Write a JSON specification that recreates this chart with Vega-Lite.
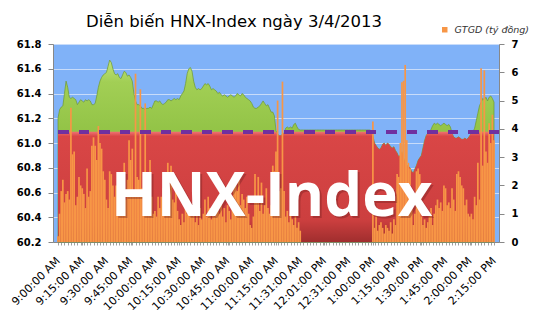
{
"$schema": "https://vega.github.io/schema/vega-lite/v6.json",
"autosize": "none",
"width": 446,
"height": 198,
"padding": {"left": 53, "top": 44, "right": 36, "bottom": 93},
"background": "white",
"config": {"view": {"fill": "#80b2f8", "stroke": "#bdbdbd"}, "font": "DejaVu Sans"},
"title": {"text": "Diễn biến HNX-Index ngày 3/4/2013", "anchor": "start", "frame": "group", "dx": 33, "dy": 35, "offset": 17, "baseline": "alphabetic", "font": "DejaVu Sans", "fontSize": 16.5, "fontWeight": "normal", "color": "#000000"},
"data": {"values": [
{"i":0,"v":61.20,"r":61.09,"g":0.2},{"i":1,"v":61.27,"r":61.09,"g":1.0},{"i":2,"v":61.29,"r":61.09,"g":1.8},{"i":3,"v":61.30,"r":61.09,"g":2.2},{"i":4,"v":61.40,"r":61.09,"g":1.4},{"i":5,"v":61.50,"r":61.09,"g":1.7},{"i":6,"v":61.45,"r":61.09,"g":1.8},{"i":7,"v":61.37,"r":61.09,"g":1.5},{"i":8,"v":61.36,"r":61.09,"g":4.75},{"i":9,"v":61.37,"r":61.09,"g":3.1},
{"i":10,"v":61.36,"r":61.09,"g":3.2},{"i":11,"v":61.35,"r":61.09,"g":1.3},{"i":12,"v":61.31,"r":61.09,"g":1.6},{"i":13,"v":61.33,"r":61.09,"g":2.3},{"i":14,"v":61.35,"r":61.09,"g":2.0},{"i":15,"v":61.34,"r":61.09,"g":1.9},{"i":16,"v":61.33,"r":61.09,"g":1.7},{"i":17,"v":61.35,"r":61.09,"g":1.2},{"i":18,"v":61.34,"r":61.09,"g":2.6},{"i":19,"v":61.35,"r":61.09,"g":1.6},
{"i":20,"v":61.34,"r":61.09,"g":1.8},{"i":21,"v":61.31,"r":61.09,"g":3.4},{"i":22,"v":61.31,"r":61.09,"g":3.7},{"i":23,"v":61.32,"r":61.09,"g":3.4},{"i":24,"v":61.38,"r":61.09,"g":2.9},{"i":25,"v":61.45,"r":61.09,"g":4.1},{"i":26,"v":61.50,"r":61.09,"g":3.5},{"i":27,"v":61.53,"r":61.09,"g":3.3},{"i":28,"v":61.55,"r":61.09,"g":2.5},{"i":29,"v":61.56,"r":61.09,"g":2.2},
{"i":30,"v":61.57,"r":61.09,"g":1.5},{"i":31,"v":61.62,"r":61.09,"g":1.2},{"i":32,"v":61.67,"r":61.09,"g":2.5},{"i":33,"v":61.65,"r":61.09,"g":2.4},{"i":34,"v":61.60,"r":61.09,"g":2.0},{"i":35,"v":61.56,"r":61.09,"g":1.6},{"i":36,"v":61.55,"r":61.09,"g":2.0},{"i":37,"v":61.56,"r":61.09,"g":1.9},{"i":38,"v":61.53,"r":61.09,"g":2.3},{"i":39,"v":61.52,"r":61.09,"g":2.1},
{"i":40,"v":61.55,"r":61.09,"g":2.3},{"i":41,"v":61.58,"r":61.09,"g":2.8},{"i":42,"v":61.57,"r":61.09,"g":1.5},{"i":43,"v":61.54,"r":61.09,"g":2.2},{"i":44,"v":61.55,"r":61.09,"g":3.6},{"i":45,"v":61.53,"r":61.09,"g":2.9},{"i":46,"v":61.50,"r":61.09,"g":3.3},{"i":47,"v":61.40,"r":61.09,"g":1.8},{"i":48,"v":61.34,"r":61.09,"g":5.95},{"i":49,"v":61.31,"r":61.09,"g":2.3},
{"i":50,"v":61.31,"r":61.09,"g":2.2},{"i":51,"v":61.30,"r":61.09,"g":5.4},{"i":52,"v":61.28,"r":61.09,"g":1.9},{"i":53,"v":61.28,"r":61.09,"g":2.4},{"i":54,"v":61.27,"r":61.09,"g":4.9},{"i":55,"v":61.28,"r":61.09,"g":1.3},{"i":56,"v":61.28,"r":61.09,"g":1.4},{"i":57,"v":61.29,"r":61.09,"g":2.9},{"i":58,"v":61.28,"r":61.09,"g":1.6},{"i":59,"v":61.31,"r":61.09,"g":1.0},
{"i":60,"v":61.34,"r":61.09,"g":1.1},{"i":61,"v":61.34,"r":61.09,"g":0.9},{"i":62,"v":61.33,"r":61.09,"g":1.6},{"i":63,"v":61.34,"r":61.09,"g":1.2},{"i":64,"v":61.32,"r":61.09,"g":1.6},{"i":65,"v":61.31,"r":61.09,"g":1.9},{"i":66,"v":61.32,"r":61.09,"g":1.2},{"i":67,"v":61.33,"r":61.09,"g":2.0},{"i":68,"v":61.35,"r":61.09,"g":2.8},{"i":69,"v":61.35,"r":61.09,"g":1.5},
{"i":70,"v":61.34,"r":61.09,"g":2.7},{"i":71,"v":61.35,"r":61.09,"g":1.5},{"i":72,"v":61.36,"r":61.09,"g":1.4},{"i":73,"v":61.35,"r":61.09,"g":1.9},{"i":74,"v":61.36,"r":61.09,"g":1.1},{"i":75,"v":61.35,"r":61.09,"g":0.8},{"i":76,"v":61.38,"r":61.09,"g":0.6},{"i":77,"v":61.40,"r":61.09,"g":1.0},{"i":78,"v":61.42,"r":61.09,"g":0.7},{"i":79,"v":61.48,"r":61.09,"g":1.3},
{"i":80,"v":61.56,"r":61.09,"g":1.0},{"i":81,"v":61.60,"r":61.09,"g":1.5},{"i":82,"v":61.61,"r":61.09,"g":1.2},{"i":83,"v":61.58,"r":61.09,"g":0.9},{"i":84,"v":61.50,"r":61.09,"g":1.4},{"i":85,"v":61.45,"r":61.09,"g":0.7},{"i":86,"v":61.43,"r":61.09,"g":1.1},{"i":87,"v":61.44,"r":61.09,"g":0.6},{"i":88,"v":61.43,"r":61.09,"g":1.2},{"i":89,"v":61.44,"r":61.09,"g":0.8},
{"i":90,"v":61.46,"r":61.09,"g":1.0},{"i":91,"v":61.48,"r":61.09,"g":1.5},{"i":92,"v":61.47,"r":61.09,"g":0.9},{"i":93,"v":61.48,"r":61.09,"g":1.6},{"i":94,"v":61.46,"r":61.09,"g":1.2},{"i":95,"v":61.43,"r":61.09,"g":0.8},{"i":96,"v":61.44,"r":61.09,"g":1.1},{"i":97,"v":61.43,"r":61.09,"g":0.9},{"i":98,"v":61.42,"r":61.09,"g":1.3},{"i":99,"v":61.40,"r":61.09,"g":1.6},
{"i":100,"v":61.41,"r":61.09,"g":1.0},{"i":101,"v":61.39,"r":61.09,"g":1.5},{"i":102,"v":61.38,"r":61.09,"g":0.9},{"i":103,"v":61.39,"r":61.09,"g":1.2},{"i":104,"v":61.38,"r":61.09,"g":0.7},{"i":105,"v":61.37,"r":61.09,"g":1.3},{"i":106,"v":61.38,"r":61.09,"g":1.1},{"i":107,"v":61.39,"r":61.09,"g":0.8},{"i":108,"v":61.38,"r":61.09,"g":1.4},{"i":109,"v":61.37,"r":61.09,"g":1.9},
{"i":110,"v":61.38,"r":61.09,"g":2.4},{"i":111,"v":61.40,"r":61.09,"g":1.8},{"i":112,"v":61.39,"r":61.09,"g":2.2},{"i":113,"v":61.38,"r":61.09,"g":1.3},{"i":114,"v":61.40,"r":61.09,"g":1.7},{"i":115,"v":61.39,"r":61.09,"g":1.5},{"i":116,"v":61.37,"r":61.09,"g":1.2},{"i":117,"v":61.36,"r":61.09,"g":1.6},{"i":118,"v":61.35,"r":61.09,"g":1.0},{"i":119,"v":61.34,"r":61.09,"g":0.6},
{"i":120,"v":61.32,"r":61.09,"g":0.5},{"i":121,"v":61.29,"r":61.09,"g":0.9},{"i":122,"v":61.28,"r":61.09,"g":2.4},{"i":123,"v":61.28,"r":61.09,"g":1.6},{"i":124,"v":61.29,"r":61.09,"g":2.3},{"i":125,"v":61.30,"r":61.09,"g":1.1},{"i":126,"v":61.32,"r":61.09,"g":2.1},{"i":127,"v":61.34,"r":61.09,"g":1.0},{"i":128,"v":61.32,"r":61.09,"g":1.3},{"i":129,"v":61.30,"r":61.09,"g":1.9},
{"i":130,"v":61.31,"r":61.09,"g":1.2},{"i":131,"v":61.28,"r":61.09,"g":1.0},{"i":132,"v":61.25,"r":61.09,"g":1.3},{"i":133,"v":61.25,"r":61.09,"g":2.7},{"i":134,"v":61.22,"r":61.09,"g":2.5},{"i":135,"v":61.10,"r":61.09,"g":3.2},{"i":136,"v":61.07,"r":61.07,"g":5.0},{"i":137,"v":61.06,"r":61.06,"g":1.8},{"i":138,"v":61.06,"r":61.06,"g":1.9},{"i":139,"v":61.07,"r":61.07,"g":5.67},
{"i":140,"v":61.08,"r":61.08,"g":1.8},{"i":141,"v":61.12,"r":61.09,"g":0.9},{"i":142,"v":61.13,"r":61.09,"g":1.1},{"i":143,"v":61.12,"r":61.09,"g":0.7},{"i":144,"v":61.13,"r":61.09,"g":1.0},{"i":145,"v":61.12,"r":61.09,"g":0.8},{"i":146,"v":61.15,"r":61.09,"g":0.6},{"i":147,"v":61.16,"r":61.09,"g":0.9},{"i":148,"v":61.13,"r":61.09,"g":0.5},{"i":149,"v":61.11,"r":61.09,"g":0.7},
{"i":150,"v":61.105,"r":61.09,"g":0.4},{"i":151,"v":61.105,"r":61.09,"g":0},{"i":152,"v":61.105,"r":61.09,"g":0},{"i":153,"v":61.105,"r":61.09,"g":0},{"i":154,"v":61.105,"r":61.09,"g":0},{"i":155,"v":61.105,"r":61.09,"g":0},{"i":156,"v":61.105,"r":61.09,"g":0},{"i":157,"v":61.105,"r":61.09,"g":0},{"i":158,"v":61.105,"r":61.09,"g":0},{"i":159,"v":61.105,"r":61.09,"g":0},
{"i":160,"v":61.105,"r":61.09,"g":0},{"i":161,"v":61.105,"r":61.09,"g":0},{"i":162,"v":61.105,"r":61.09,"g":0},{"i":163,"v":61.105,"r":61.09,"g":0},{"i":164,"v":61.105,"r":61.09,"g":0},{"i":165,"v":61.105,"r":61.09,"g":0},{"i":166,"v":61.105,"r":61.09,"g":0},{"i":167,"v":61.105,"r":61.09,"g":0},{"i":168,"v":61.105,"r":61.09,"g":0},{"i":169,"v":61.105,"r":61.09,"g":0},
{"i":170,"v":61.105,"r":61.09,"g":0},{"i":171,"v":61.105,"r":61.09,"g":0},{"i":172,"v":61.105,"r":61.09,"g":0},{"i":173,"v":61.105,"r":61.09,"g":0},{"i":174,"v":61.105,"r":61.09,"g":0},{"i":175,"v":61.105,"r":61.09,"g":0},{"i":176,"v":61.105,"r":61.09,"g":0},{"i":177,"v":61.105,"r":61.09,"g":0},{"i":178,"v":61.105,"r":61.09,"g":0},{"i":179,"v":61.105,"r":61.09,"g":0},
{"i":180,"v":61.105,"r":61.09,"g":0},{"i":181,"v":61.105,"r":61.09,"g":0},{"i":182,"v":61.105,"r":61.09,"g":0},{"i":183,"v":61.105,"r":61.09,"g":0},{"i":184,"v":61.105,"r":61.09,"g":0},{"i":185,"v":61.105,"r":61.09,"g":0},{"i":186,"v":61.105,"r":61.09,"g":0},{"i":187,"v":61.105,"r":61.09,"g":0},{"i":188,"v":61.105,"r":61.09,"g":0},{"i":189,"v":61.105,"r":61.09,"g":0},
{"i":190,"v":61.105,"r":61.09,"g":0},{"i":191,"v":61.105,"r":61.09,"g":0},{"i":192,"v":61.105,"r":61.09,"g":0},{"i":193,"v":61.105,"r":61.09,"g":0},{"i":194,"v":61.10,"r":61.09,"g":0},{"i":195,"v":61.06,"r":61.06,"g":4.26},{"i":196,"v":61.00,"r":61.00,"g":0.5},{"i":197,"v":60.98,"r":60.98,"g":0.9},{"i":198,"v":60.96,"r":60.96,"g":0.4},{"i":199,"v":60.95,"r":60.95,"g":0.6},
{"i":200,"v":60.96,"r":60.96,"g":0.7},{"i":201,"v":60.99,"r":60.99,"g":0.5},{"i":202,"v":61.00,"r":61.00,"g":0.3},{"i":203,"v":60.98,"r":60.98,"g":0.6},{"i":204,"v":61.00,"r":61.00,"g":0.5},{"i":205,"v":60.99,"r":60.99,"g":0.4},{"i":206,"v":60.97,"r":60.97,"g":0.7},{"i":207,"v":60.96,"r":60.96,"g":0.3},{"i":208,"v":60.97,"r":60.97,"g":0.8},{"i":209,"v":60.94,"r":60.94,"g":0.6},
{"i":210,"v":60.92,"r":60.92,"g":2.4},{"i":211,"v":60.89,"r":60.89,"g":2.3},{"i":212,"v":60.90,"r":60.90,"g":3.5},{"i":213,"v":60.93,"r":60.93,"g":5.65},{"i":214,"v":60.88,"r":60.88,"g":5.7},{"i":215,"v":60.84,"r":60.84,"g":6.26},{"i":216,"v":60.82,"r":60.82,"g":3.6},{"i":217,"v":60.81,"r":60.81,"g":2.8},{"i":218,"v":60.80,"r":60.80,"g":2.6},{"i":219,"v":60.77,"r":60.77,"g":1.4},
{"i":220,"v":60.76,"r":60.76,"g":0.6},{"i":221,"v":60.79,"r":60.79,"g":1.0},{"i":222,"v":60.82,"r":60.82,"g":2.5},{"i":223,"v":60.86,"r":60.86,"g":2.6},{"i":224,"v":60.88,"r":60.88,"g":2.4},{"i":225,"v":60.90,"r":60.90,"g":0.9},{"i":226,"v":60.96,"r":60.96,"g":0.6},{"i":227,"v":61.02,"r":61.02,"g":0.8},{"i":228,"v":61.06,"r":61.06,"g":0.5},{"i":229,"v":61.08,"r":61.08,"g":0.7},
{"i":230,"v":61.09,"r":61.09,"g":0.9},{"i":231,"v":61.11,"r":61.09,"g":1.2},{"i":232,"v":61.14,"r":61.09,"g":0.6},{"i":233,"v":61.16,"r":61.09,"g":1.0},{"i":234,"v":61.15,"r":61.09,"g":1.3},{"i":235,"v":61.16,"r":61.09,"g":1.5},{"i":236,"v":61.15,"r":61.09,"g":1.2},{"i":237,"v":61.14,"r":61.09,"g":1.4},{"i":238,"v":61.15,"r":61.09,"g":1.1},{"i":239,"v":61.16,"r":61.09,"g":2.0},
{"i":240,"v":61.15,"r":61.09,"g":1.9},{"i":241,"v":61.14,"r":61.09,"g":1.3},{"i":242,"v":61.15,"r":61.09,"g":1.4},{"i":243,"v":61.13,"r":61.09,"g":1.2},{"i":244,"v":61.08,"r":61.08,"g":1.9},{"i":245,"v":61.05,"r":61.05,"g":1.5},{"i":246,"v":61.04,"r":61.04,"g":1.1},{"i":247,"v":61.04,"r":61.04,"g":2.4},{"i":248,"v":61.05,"r":61.05,"g":2.5},{"i":249,"v":61.04,"r":61.04,"g":2.3},
{"i":250,"v":61.03,"r":61.03,"g":2.0},{"i":251,"v":61.03,"r":61.03,"g":1.9},{"i":252,"v":61.04,"r":61.04,"g":1.3},{"i":253,"v":61.03,"r":61.03,"g":1.5},{"i":254,"v":61.04,"r":61.04,"g":1.0},{"i":255,"v":61.06,"r":61.06,"g":0.9},{"i":256,"v":61.08,"r":61.08,"g":1.0},{"i":257,"v":61.09,"r":61.09,"g":0.8},{"i":258,"v":61.12,"r":61.09,"g":1.6},{"i":259,"v":61.18,"r":61.09,"g":1.3},
{"i":260,"v":61.24,"r":61.09,"g":2.8},{"i":261,"v":61.30,"r":61.09,"g":1.5},{"i":262,"v":61.33,"r":61.09,"g":6.14},{"i":263,"v":61.36,"r":61.09,"g":2.7},{"i":264,"v":61.35,"r":61.09,"g":6.07},{"i":265,"v":61.37,"r":61.09,"g":3.2},{"i":266,"v":61.34,"r":61.09,"g":2.8},{"i":267,"v":61.37,"r":61.09,"g":4.2},{"i":268,"v":61.38,"r":61.09,"g":3.5},{"i":269,"v":61.36,"r":61.09,"g":4.5},
{"i":270,"v":61.33,"r":61.09,"g":3.6}
]},
"layer": [
{"mark": {"type": "area", "color": {"gradient": "linear", "x1": 0, "y1": 0, "x2": 0, "y2": 1, "stops": [{"offset": 0, "color": "#bfe27e"}, {"offset": 0.12, "color": "#a2cf55"}, {"offset": 0.4, "color": "#92c346"}, {"offset": 1, "color": "#80b038"}]}, "stroke": "#6f9a2c", "strokeWidth": 0.7},
 "encoding": {
  "x": {"field": "i", "type": "quantitative", "scale": {"domain": [0, 270], "nice": false, "zero": false},
   "axis": {"tickCount": 1000, "values": [0,2,4,6,8,10,12,14,15,16,18,20,22,24,26,28,30,32,34,36,38,40,42,44,45,46,48,50,52,54,56,58,60,62,64,66,68,70,72,74,75,76,78,80,82,84,86,88,90,92,94,96,98,100,102,104,105,106,108,110,112,114,116,118,120,122,124,126,128,130,132,134,135,136,138,140,142,144,146,148,150,152,154,156,158,160,162,164,165,166,168,170,172,174,176,178,180,182,184,186,188,190,192,194,195,196,198,200,202,204,206,208,210,212,214,216,218,220,222,224,225,226,228,230,232,234,236,238,240,242,244,246,248,250,252,254,255,256,258,260,262,264,266,268,270], "labelExpr": "datum.value % 15 == 0 ? ['9:00:00 AM','9:15:00 AM','9:30:00 AM','9:45:00 AM','10:00:00 AM','10:15:00 AM','10:30:00 AM','10:45:00 AM','11:00:00 AM','11:15:00 AM','11:31:00 AM','12:01:00 PM','12:31:00 PM','1:00:00 PM','1:15:00 PM','1:30:00 PM','1:45:00 PM','2:00:00 PM','2:15:00 PM'][datum.value/15] : ''", "labelAngle": -45, "labelAlign": "right", "labelBaseline": "middle", "labelFont": "DejaVu Sans", "labelFontSize": 11, "labelColor": "#000000", "labelOverlap": false, "labelBound": false, "labelFlush": false, "labelPadding": 14, "tickSize": 3, "tickColor": "#a0a0a0", "domainColor": "#888888", "grid": false, "title": null}},
  "y": {"field": "v", "type": "quantitative", "scale": {"domain": [60.2, 61.8], "nice": false, "zero": false},
   "axis": {"orient": "left", "values": [60.2, 60.4, 60.6, 60.8, 61.0, 61.2, 61.4, 61.6, 61.8], "format": ".1f", "labelFont": "DejaVu Sans", "labelFontSize": 10, "labelFontWeight": "bold", "labelColor": "#000000", "tickSize": 5, "tickColor": "#888888", "domainColor": "#888888", "labelPadding": 7, "grid": true, "gridColor": "#c8dcfa", "gridWidth": 1, "title": null}},
  "y2": {"datum": 60.2}
 }},
{"mark": {"type": "area", "color": {"gradient": "linear", "x1": 0, "y1": 0, "x2": 0, "y2": 1, "stops": [{"offset": 0, "color": "#ee7272"}, {"offset": 0.04, "color": "#d94646"}, {"offset": 0.8, "color": "#cc3f3f"}, {"offset": 1, "color": "#a02e2e"}]}},
 "encoding": {
  "x": {"field": "i", "type": "quantitative"},
  "y": {"field": "r", "type": "quantitative", "scale": {"domain": [60.2, 61.8], "nice": false, "zero": false}, "axis": null},
  "y2": {"datum": 60.2}
 }},
{"mark": {"type": "bar", "size": 1.7},
 "encoding": {
  "x": {"field": "i", "type": "quantitative"},
  "y": {"field": "g", "type": "quantitative", "scale": {"domain": [0, 7], "nice": false, "zero": true},
   "axis": {"orient": "right", "values": [0, 1, 2, 3, 4, 5, 6, 7], "labelFont": "DejaVu Sans", "labelFontSize": 10, "labelFontWeight": "bold", "labelColor": "#000000", "tickSize": 5, "tickColor": "#888888", "domainColor": "#888888", "labelPadding": 7, "grid": false, "title": null}},
  "color": {"datum": "GTGD (tỷ đồng)", "scale": {"range": ["#f79646"]},
   "legend": {"orient": "none", "legendX": 387, "legendY": -19, "title": null, "padding": 0, "symbolType": "square", "symbolSize": 30, "symbolStrokeWidth": 0, "labelFont": "DejaVu Sans", "labelFontSize": 9.5, "labelFontStyle": "italic", "labelColor": "#333333", "labelOffset": 5}}
 }},
{"mark": {"type": "rule", "color": "#7030a0", "strokeWidth": 3, "strokeDash": [10, 10.5]},
 "encoding": {"y": {"datum": 61.09, "scale": {"domain": [60.2, 61.8], "nice": false, "zero": false}, "axis": null}}},
{"data": {"values": [{"label": "HNX-Index"}]},
 "mark": {"type": "text", "font": "Open Sans", "fontWeight": "bold", "fontSize": 60, "color": "#6a1c1c", "opacity": 0.35, "align": "center", "baseline": "alphabetic", "dx": 2, "dy": 2},
 "encoding": {"text": {"field": "label"}, "x": {"datum": 132.3}, "y": {"datum": 60.41, "scale": {"domain": [60.2, 61.8], "nice": false, "zero": false}, "axis": null}}},
{"data": {"values": [{"label": "HNX-Index"}]},
 "mark": {"type": "text", "font": "Open Sans", "fontWeight": "bold", "fontSize": 60, "color": "#ffffff", "align": "center", "baseline": "alphabetic"},
 "encoding": {"text": {"field": "label"}, "x": {"datum": 132.3}, "y": {"datum": 60.41, "scale": {"domain": [60.2, 61.8], "nice": false, "zero": false}, "axis": null}}}
],
"resolve": {"scale": {"y": "independent"}}
}
